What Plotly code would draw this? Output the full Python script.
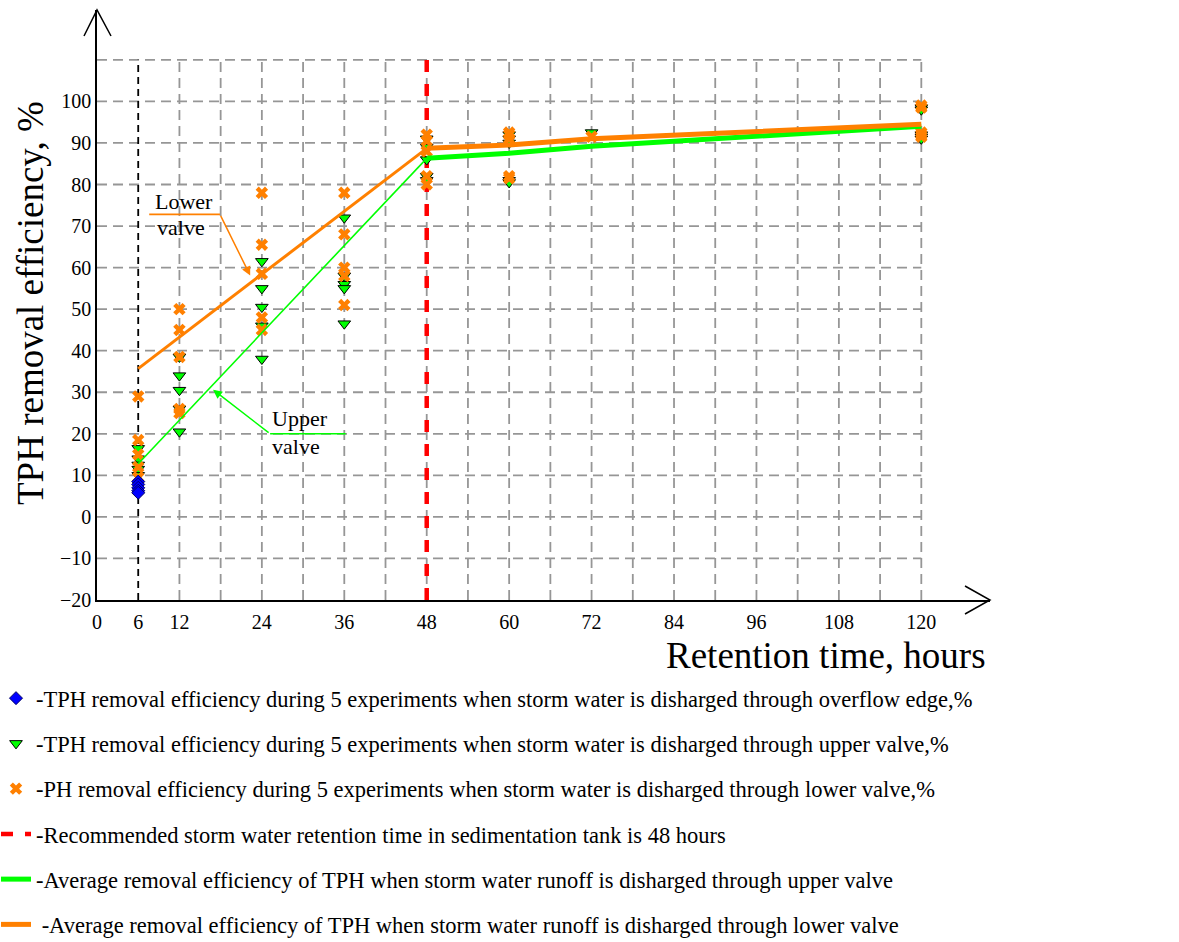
import plotly.graph_objects as go

# ---------------- data ----------------
hours = [6, 12, 24, 36, 48, 60, 72, 120]

overflow_hours = [6]
overflow_edge = [[8.5, 7.8, 7.0, 6.3, 5.8]]

upper_valve = [
    [16.5, 14.0, 12.5, 11.5, 10.0],
    [38.5, 34.0, 30.5, 26.0, 20.5],
    [61.5, 55.0, 50.5, 46.0, 38.0],
    [72.0, 58.0, 56.0, 55.0, 46.5],
    [91.0, 89.0, 86.0, 82.0, 81.0],
    [92.0, 91.0, 90.0, 81.0, 80.5],
    [92.5],
    [98.5, 98.0, 92.0, 91.5, 91.0],
]

lower_valve = [
    [29.0, 18.5, 15.0, 12.0, 9.5],
    [50.0, 45.0, 38.5, 26.0, 25.0],
    [78.0, 65.5, 58.5, 48.0, 45.0],
    [78.0, 68.0, 60.0, 58.0, 51.0],
    [92.0, 90.5, 88.0, 82.0, 80.0],
    [92.5, 92.0, 91.0, 82.0, 81.5],
    [91.5],
    [99.0, 98.5, 92.5, 92.0, 91.5],
]

avg_hours = [6, 48, 60, 72, 120]
avg_upper = [12.8, 86.3, 87.5, 89.2, 94.0]
avg_lower = [35.7, 88.7, 89.5, 91.0, 94.5]

recommended_time = 48
first_sample = 6

x_ticks = [0, 6, 12, 24, 36, 48, 60, 72, 84, 96, 108, 120]
y_ticks = list(range(-20, 101, 10))
x_grid = list(range(6, 121, 6))
y_grid = list(range(-10, 111, 10))

names = [
    "-TPH removal efficiency during 5 experiments when storm water is disharged through overflow edge,%",
    "-TPH removal efficiency during 5 experiments when storm water is disharged through upper valve,%",
    "-PH removal efficiency during 5 experiments when storm water is disharged through lower valve,%",
    "-Recommended storm water retention time in sedimentation tank is 48 hours",
    "-Average removal efficiency of TPH when storm water runoff is disharged through upper valve",
    " -Average removal efficiency of TPH when storm water runoff is disharged through lower valve",
]

# ---------------- helpers ----------------
def flatten(xs, groups):
    fx, fy = [], []
    for x, g in zip(xs, groups):
        for v in g:
            fx.append(x)
            fy.append(v)
    return fx, fy

W, H = 1179, 942
X0, X1 = 97, 990     # plot area pixels
Y0, Y1 = 10, 600
XR = [0, 130]
YR = [-20, 122]
GX_MAX, GY_MAX = 120, 110

def px(xp):
    return xp / W

def py(yp):
    return 1 - yp / H

SERIF = "Liberation Serif"
ORANGE = "#ff8000"
GREEN = "#00ff00"
GRID = "#969696"

fig = go.Figure()

# recommended line (red dashed)
fig.add_trace(go.Scatter(
    x=[recommended_time, recommended_time], y=[YR[0], GY_MAX], mode="lines",
    line=dict(color="#ff0000", width=4.5, dash="12px,12px"),
    name=names[3], legendgroup="g4", legendrank=4))

ox, oy = flatten(overflow_hours, overflow_edge)
ux, uy = flatten(hours, upper_valve)
lx, ly = flatten(hours, lower_valve)

fig.add_trace(go.Scatter(
    x=ux, y=uy, mode="markers",
    marker=dict(symbol="triangle-down", size=11, color=GREEN, line=dict(color="black", width=1)),
    name=names[1], legendgroup="g2", legendrank=2))
fig.add_trace(go.Scatter(
    x=lx, y=ly, mode="markers",
    marker=dict(symbol="x", size=11, color=ORANGE, line=dict(width=0)),
    name=names[2], legendgroup="g3", legendrank=3))
fig.add_trace(go.Scatter(
    x=ox, y=oy, mode="markers",
    marker=dict(symbol="diamond", size=10, color="#0000ff", line=dict(color="#000066", width=1)),
    name=names[0], legendgroup="g1", legendrank=1))

# average lines
fig.add_trace(go.Scatter(
    x=avg_hours[:2], y=avg_upper[:2], mode="lines",
    line=dict(color=GREEN, width=1.6), showlegend=False, legendgroup="g5"))
fig.add_trace(go.Scatter(
    x=avg_hours[1:], y=avg_upper[1:], mode="lines",
    line=dict(color=GREEN, width=5),
    name=names[4], legendgroup="g5", legendrank=5))
fig.add_trace(go.Scatter(
    x=avg_hours[:2], y=avg_lower[:2], mode="lines",
    line=dict(color=ORANGE, width=3), showlegend=False, legendgroup="g6"))
fig.add_trace(go.Scatter(
    x=avg_hours[1:], y=avg_lower[1:], mode="lines",
    line=dict(color=ORANGE, width=5),
    name=names[5], legendgroup="g6", legendrank=6))

shapes = []
for gx in x_grid:
    if gx == first_sample:
        continue
    shapes.append(dict(type="line", xref="x", yref="y", x0=gx, x1=gx, y0=YR[0], y1=GY_MAX,
                       line=dict(color=GRID, width=1.8, dash="10px,6px"), layer="below"))
for gy in y_grid:
    shapes.append(dict(type="line", xref="x", yref="y", x0=0, x1=GX_MAX, y0=gy, y1=gy,
                       line=dict(color=GRID, width=1.8, dash="10px,6px"), layer="below"))
shapes.append(dict(type="line", xref="x", yref="y", x0=first_sample, x1=first_sample,
                   y0=YR[0], y1=GY_MAX, line=dict(color="black", width=1.8, dash="7px,5px"),
                   layer="below"))
# axis arrowheads (open V)
shapes.append(dict(type="path", xref="paper", yref="paper",
                   path=f"M {px(84)},{py(36)} L {px(X0)},{py(Y0)} L {px(111)},{py(36)}",
                   line=dict(color="black", width=1.5)))
shapes.append(dict(type="path", xref="paper", yref="paper",
                   path=f"M {px(965)},{py(586)} L {px(X1)},{py(Y1)} L {px(965)},{py(614)}",
                   line=dict(color="black", width=1.5)))
# callout underlines
shapes.append(dict(type="line", xref="x", yref="y", x0=7.6, x1=17.9, y0=72.8, y1=72.8,
                   line=dict(color=ORANGE, width=1.6)))
shapes.append(dict(type="line", xref="x", yref="y", x0=25.2, x1=36.2, y0=20.0, y1=20.0,
                   line=dict(color=GREEN, width=1.6)))

lbl = dict(family=SERIF, size=22, color="black")
annotations = [
    dict(text="TPH removal efficiency, %", xref="paper", yref="paper", x=px(30), y=py(303),
         xanchor="center", yanchor="middle", textangle=-90, showarrow=False,
         font=dict(family=SERIF, size=37, color="black")),
    dict(text="Retention time, hours", xref="paper", yref="paper", x=px(826), y=py(655),
         xanchor="center", yanchor="middle", showarrow=False,
         font=dict(family=SERIF, size=37, color="black")),
    dict(text="Lower", xref="x", yref="y", x=8.2, y=75.9, xanchor="left",
         yanchor="middle", showarrow=False, font=lbl),
    dict(text="valve", xref="x", yref="y", x=8.4, y=69.6, xanchor="left",
         yanchor="middle", showarrow=False, font=lbl),
    dict(text="Upper", xref="x", yref="y", x=25.2, y=23.6, xanchor="left",
         yanchor="middle", showarrow=False, font=lbl),
    dict(text="valve", xref="x", yref="y", x=25.2, y=16.9, xanchor="left",
         yanchor="middle", showarrow=False, font=lbl),
    dict(text="", xref="x", yref="y", x=22.3, y=58.1, axref="x", ayref="y", ax=17.9, ay=72.8,
         showarrow=True, arrowhead=2, arrowsize=1.2, arrowwidth=1.5, arrowcolor=ORANGE),
    dict(text="", xref="x", yref="y", x=16.9, y=30.6, axref="x", ayref="y", ax=25.2, ay=20.0,
         showarrow=True, arrowhead=2, arrowsize=1.2, arrowwidth=1.5, arrowcolor=GREEN),
]

fig.update_layout(
    width=W, height=H,
    margin=dict(l=0, r=0, t=0, b=0, autoexpand=False),
    paper_bgcolor="white", plot_bgcolor="white",
    font=dict(family=SERIF, size=20, color="black"),
    xaxis=dict(domain=[X0 / W, X1 / W], range=XR, tickmode="array", tickvals=x_ticks,
               showgrid=False, zeroline=False, showline=True, linecolor="black", linewidth=1.5,
               ticks="", ticklabelstandoff=3,
               tickfont=dict(family=SERIF, size=20, color="black")),
    yaxis=dict(domain=[1 - Y1 / H, 1 - Y0 / H], range=YR, tickmode="array", tickvals=y_ticks,
               showgrid=False, zeroline=False, showline=True, linecolor="black", linewidth=1.5,
               ticks="", tickfont=dict(family=SERIF, size=20, color="black")),
    showlegend=True,
    legend=dict(x=px(-4), y=py(677), xanchor="left", yanchor="top", traceorder="grouped",
                tracegroupgap=13, font=dict(family=SERIF, size=22.5, color="black"),
                bgcolor="rgba(0,0,0,0)", itemwidth=30),
    shapes=shapes,
    annotations=annotations,
)

fig.write_html("out.html", config={"displayModeBar": False},
               post_script="document.body.style.margin='0';")
